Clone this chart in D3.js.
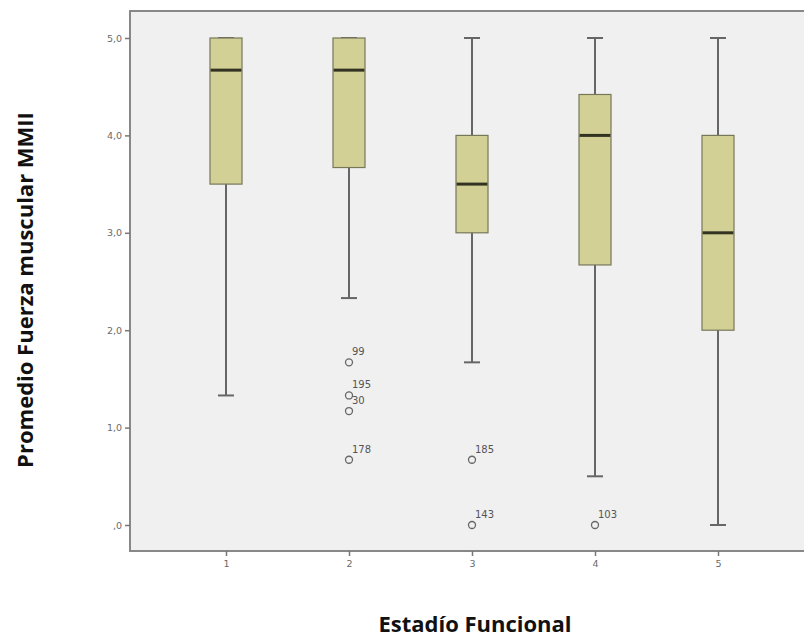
<!DOCTYPE html>
<meta charset="utf-8">
<style>
    body { margin: 0; background: #fff; }
    text { font-family: "DejaVu Sans", sans-serif; }
    .axis path, .axis line { stroke: #777; }
    .axis text { fill: #6a6a6a; font-size: 9.5px; }
    .title { font-family: "Open Sans", sans-serif; font-weight: bold; fill: #111; }
    .whisker { stroke: #666; stroke-width: 2; }
    .box { fill: #d3d096; stroke: #77775a; stroke-width: 1.2; }
    .median { stroke: #333322; stroke-width: 3; }
    .outlier { fill: none; stroke: #666; stroke-width: 1.3; }
    .olabel { fill: #555; font-size: 10px; }
</style>
<body>
<script src="https://cdn.jsdelivr.net/npm/d3@7"></script>
<script>

    // data
    var categories = ["1", "2", "3", "4", "5"];
    var lowWhisker = [1.33, 2.33, 1.67, 0.50, 0.00];
    var q1         = [3.50, 3.67, 3.00, 2.67, 2.00];
    var medians    = [4.67, 4.67, 3.50, 4.00, 3.00];
    var q3         = [5.00, 5.00, 4.00, 4.42, 4.00];
    var highWhisker= [5.00, 5.00, 5.00, 5.00, 5.00];
    var outlierCat   = ["2", "2", "2", "2", "3", "3", "4"];
    var outlierVal   = [1.67, 1.33, 1.17, 0.67, 0.67, 0.00, 0.00];
    var outlierLabel = ["99", "195", "30", "178", "185", "143", "103"];
    var yTicks = [0, 1, 2, 3, 4, 5];

    var width = 804, height = 637;
    var frame = {left: 130, top: 11, right: 810, bottom: 551};

    var svg = d3.select("body").append("svg")
            .attr("width", width)
            .attr("height", height);

    var x = d3.scalePoint()
            .domain(categories)
            .range([226, 718]);

    var y = d3.scaleLinear()
            .domain([0, 5])
            .range([525, 38]);

    var boxW = 32, capW = 16;

    // plot background
    svg.append("rect")
            .attr("x", frame.left)
            .attr("y", frame.top)
            .attr("width", frame.right - frame.left)
            .attr("height", frame.bottom - frame.top)
            .attr("fill", "#f0f0f0")
            .attr("stroke", "#888")
            .attr("stroke-width", 2);

    var yAxis = d3.axisLeft(y)
            .tickValues(yTicks)
            .tickSize(5)
            .tickFormat(function(d) { return d === 0 ? ",0" : d.toFixed(1).replace(".", ","); });

    svg.append("g")
            .attr("class", "y axis")
            .attr("transform", "translate(" + frame.left + ",0)")
            .call(yAxis)
            .call(function(g) { g.select(".domain").remove(); })
            .selectAll("line").attr("stroke-width", 1.5);

    var xAxis = d3.axisBottom(x).tickSize(5).tickPadding(4);

    svg.append("g")
            .attr("class", "x axis")
            .attr("transform", "translate(0," + frame.bottom + ")")
            .call(xAxis)
            .call(function(g) { g.select(".domain").remove(); })
            .selectAll("line").attr("stroke-width", 1.5);

    var idx = d3.range(categories.length);

    var g = svg.append("g").attr("class", "boxes");

    // whiskers
    g.selectAll("line.whisker.v")
        .data(idx)
      .enter().append("line")
            .attr("class", "whisker v")
            .attr("x1", function(i) { return x(categories[i]); })
            .attr("x2", function(i) { return x(categories[i]); })
            .attr("y1", function(i) { return y(lowWhisker[i]); })
            .attr("y2", function(i) { return y(highWhisker[i]); });

    g.selectAll("line.cap.low")
        .data(idx)
      .enter().append("line")
            .attr("class", "whisker cap low")
            .attr("x1", function(i) { return x(categories[i]) - capW / 2; })
            .attr("x2", function(i) { return x(categories[i]) + capW / 2; })
            .attr("y1", function(i) { return y(lowWhisker[i]); })
            .attr("y2", function(i) { return y(lowWhisker[i]); });

    g.selectAll("line.cap.high")
        .data(idx)
      .enter().append("line")
            .attr("class", "whisker cap high")
            .attr("x1", function(i) { return x(categories[i]) - capW / 2; })
            .attr("x2", function(i) { return x(categories[i]) + capW / 2; })
            .attr("y1", function(i) { return y(highWhisker[i]); })
            .attr("y2", function(i) { return y(highWhisker[i]); });

    // boxes
    g.selectAll("rect.box")
        .data(idx)
      .enter().append("rect")
            .attr("class", "box")
            .attr("x", function(i) { return x(categories[i]) - boxW / 2; })
            .attr("width", boxW)
            .attr("y", function(i) { return y(q3[i]); })
            .attr("height", function(i) { return y(q1[i]) - y(q3[i]); });

    g.selectAll("line.median")
        .data(idx)
      .enter().append("line")
            .attr("class", "median")
            .attr("x1", function(i) { return x(categories[i]) - boxW / 2 + 0.6; })
            .attr("x2", function(i) { return x(categories[i]) + boxW / 2 - 0.6; })
            .attr("y1", function(i) { return y(medians[i]); })
            .attr("y2", function(i) { return y(medians[i]); });

    // outliers
    var oIdx = d3.range(outlierVal.length);

    g.selectAll("circle.outlier")
        .data(oIdx)
      .enter().append("circle")
            .attr("class", "outlier")
            .attr("cx", function(i) { return x(outlierCat[i]); })
            .attr("cy", function(i) { return y(outlierVal[i]); })
            .attr("r", 3.5);

    g.selectAll("text.olabel")
        .data(oIdx)
      .enter().append("text")
            .attr("class", "olabel")
            .attr("x", function(i) { return x(outlierCat[i]) + 3; })
            .attr("y", function(i) { return y(outlierVal[i]) - 7; })
            .text(function(i) { return outlierLabel[i]; });

    // axis titles
    svg.append("text")
            .attr("class", "title")
            .attr("text-anchor", "middle")
            .attr("x", 475)
            .attr("y", 632)
            .style("font-size", "22px")
            .text("Estadío Funcional");

    svg.append("text")
            .attr("class", "title")
            .attr("text-anchor", "middle")
            .attr("transform", "translate(33,290) rotate(-90)")
            .style("font-size", "22px")
            .text("Promedio Fuerza muscular MMII");

</script>
